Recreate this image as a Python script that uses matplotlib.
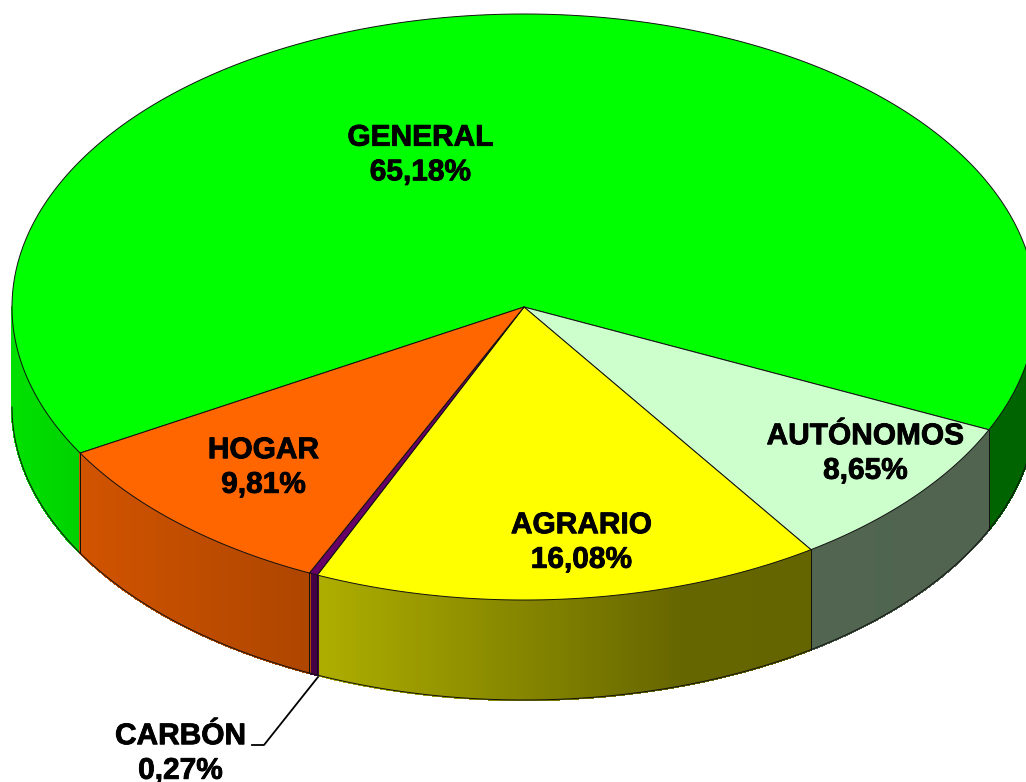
# plot.py
# 3D-look pie chart of shares per regime, built by hand on a pixel-sized axes

import numpy as np
import matplotlib
matplotlib.use("Agg")
import matplotlib.pyplot as plt
import matplotlib.patheffects as pe
from matplotlib.collections import PolyCollection
from matplotlib.colors import to_rgb

# clockwise order, starting from the GENERAL / HOGAR border
labels = ["GENERAL", "AUTÓNOMOS", "AGRARIO", "CARBÓN", "HOGAR"]
shares = [65.18, 8.65, 16.08, 0.27, 9.81]
shares_text = ["65,18%", "8,65%", "16,08%", "0,27%", "9,81%"]
colors = ["#00FF00", "#CCFFCC", "#FFFF00", "#660066", "#FF6600"]

CX, CY = 524, 307       # pie centre in pixels
RX, RY = 512, 293       # ellipse radii
DEPTH = 100             # wall height
START = 240.1           # degrees clockwise from the top
LINE = 0.7              # outline width
FONT = ["Liberation Sans", "DejaVu Sans"]

# where each label sits (pixels, centre of the two lines)
label_order = ["GENERAL", "AUTÓNOMOS", "AGRARIO", "HOGAR", "CARBÓN"]
label_pos = [(420.5, 155), (865.5, 453.5), (581.5, 542.5), (263.5, 467.5), (180.5, 753.5)]


def rim(t):
    t = np.radians(t)
    return CX + RX * np.sin(t), CY - RY * np.cos(t)


def wall_shade(x):
    # the side wall darkens from left to right, flat after about x=680
    return np.interp(x, [12, 80, 310, 320, 680, 1040],
                     [0.88, 0.82, 0.68, 0.68, 0.40, 0.39])


def draw_wall(ax, t0, t1, color):
    """Front wall between two angles, as thin strips with a gradient."""
    lo, hi = max(t0, 90), min(t1, 270)
    if hi <= lo:
        return
    ts = np.linspace(lo, hi, max(int((hi - lo) * 4), 2) + 1)
    xs, ys = rim(ts)
    base = np.array(to_rgb(color))
    polys, cols = [], []
    for i in range(len(ts) - 1):
        polys.append([(xs[i], ys[i]), (xs[i + 1], ys[i + 1]),
                      (xs[i + 1], ys[i + 1] + DEPTH), (xs[i], ys[i] + DEPTH)])
        cols.append(base * wall_shade((xs[i] + xs[i + 1]) / 2))
    ax.add_collection(PolyCollection(polys, facecolors=cols, edgecolors=cols,
                                     linewidths=1.0, antialiaseds=False, zorder=2))
    # outline: bottom rim and the two vertical edges
    ax.plot(xs, ys + DEPTH, color="#111111", lw=LINE, zorder=3)
    for t in (lo, hi):
        if 90 < t < 270:
            x, y = rim(t)
            ax.plot([x, x], [y, y + DEPTH], color="#111111", lw=LINE, zorder=3)


def draw_top(ax, t0, t1, color):
    ts = np.linspace(t0, t1, max(int((t1 - t0) * 2), 2) + 1)
    xs, ys = rim(ts)
    ax.fill(np.r_[CX, xs], np.r_[CY, ys], facecolor=color,
            edgecolor="#111111", lw=LINE, joinstyle="round", zorder=4)


def main():
    fig = plt.figure(figsize=(10.26, 7.82), dpi=100)
    ax = fig.add_axes([0, 0, 1, 1])
    ax.set_xlim(0, 1026)
    ax.set_ylim(782, 0)
    ax.axis("off")

    total = sum(shares)
    spans = [s / total * 360 for s in shares]
    t = START
    for span, color in zip(spans, colors):
        # check both the angle range and its copy one turn lower
        draw_wall(ax, t, t + span, color)
        draw_wall(ax, t - 360, t + span - 360, color)
        draw_top(ax, t, t + span, color)
        t += span

    for name, (x, y) in zip(label_order, label_pos):
        val = shares_text[labels.index(name)]
        ax.text(x, y, f"{name}\n{val}", ha="center", va="center",
                family=FONT, fontsize=21.5, fontweight="bold",
                linespacing=1.3, color="black", zorder=6,
                path_effects=[pe.withStroke(linewidth=0.6, foreground="black")])

    # leader line of the small CARBÓN slice
    ax.plot([318, 264, 252], [677, 745, 745], color="black", lw=1.3, zorder=5)

    fig.savefig("out.png", dpi=100)


if __name__ == "__main__":
    main()
